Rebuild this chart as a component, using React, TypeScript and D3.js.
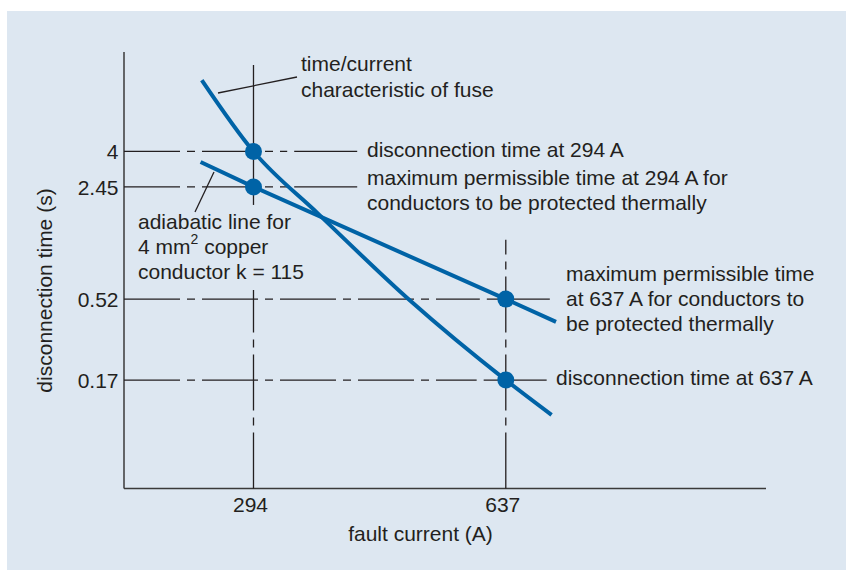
import React, { useRef, useEffect } from "react";
import * as d3 from "d3";

// tick values
const currentTicks = [294, 637];
const timeTicks = [4, 2.45, 0.52, 0.17];
const timeTickLabels = ["4", "2.45", "0.52", "0.17"];

// fuse time/current characteristic (A, s)
const fuseCurrent = [251, 294, 358, 475, 637, 733];
const fuseTime = [10.7, 4, 1.7, 0.51, 0.17, 0.105];

// adiabatic line, 4 mm2 copper, k = 115
const adiabaticCurrent = [250, 294, 637, 743];
const adiabaticTime = [3.46, 2.45, 0.52, 0.38];

// marked points
const pointCurrent = [294, 294, 637, 637];
const pointTime = [4, 2.45, 0.52, 0.17];

const W = 846;
const H = 570;
const BLUE = "#0063a6";
const INK = "#231f20";
const FONT = "'Liberation Sans', Arial, Helvetica, sans-serif";

const App = () => {
  const svgRef = useRef(null);

  useEffect(() => {
    const svg = d3.select(svgRef.current);
    svg.selectAll("*").remove();

    svg
      .append("rect")
      .attr("x", 7)
      .attr("y", 11)
      .attr("width", W - 7)
      .attr("height", H - 11)
      .attr("fill", "#dde7f1");

    const left = 124;
    const right = 766;
    const top = 52;
    const bottom = 488.5;

    const x = d3.scaleLog().domain([197.7, 1414]).range([left, right]);
    const y = d3.scaleLog().domain([15.8, 0.038]).range([top, bottom]);

    const g = svg.append("g");

    // axes
    g.append("line")
      .attr("x1", left).attr("x2", left)
      .attr("y1", top).attr("y2", bottom)
      .attr("stroke", "#3a3a3a").attr("stroke-width", 1.5);
    g.append("line")
      .attr("x1", left).attr("x2", right)
      .attr("y1", bottom).attr("y2", bottom)
      .attr("stroke", "#3a3a3a").attr("stroke-width", 1.5);

    const dashDot = "56 7 8 7";
    const refLine = (x1, y1, x2, y2, dash) =>
      g.append("line")
        .attr("x1", x1).attr("y1", y1)
        .attr("x2", x2).attr("y2", y2)
        .attr("stroke", INK)
        .attr("stroke-width", 1.3)
        .attr("stroke-dasharray", dash || null);

    // horizontal reference lines: dash-dot from axis, solid run to the label
    const hEnds = [404, 404, 729, 722];
    timeTicks.forEach((t, i) => {
      const yy = y(t);
      const xe = x(hEnds[i]);
      refLine(left, yy, xe - 70, yy, dashDot);
      refLine(xe - 63, yy, xe, yy);
    });

    // vertical reference lines
    refLine(x(294), bottom, x(294), y(0.59), dashDot);
    refLine(x(294), y(1.91), x(294), y(13.2));
    refLine(x(637), bottom, x(637), y(1.18), dashDot);

    // curves
    const line = d3
      .line()
      .x((d) => x(d[0]))
      .y((d) => y(d[1]))
      .curve(d3.curveMonotoneX);

    g.append("path")
      .datum(adiabaticCurrent.map((c, i) => [c, adiabaticTime[i]]))
      .attr("d", line.curve(d3.curveLinear))
      .attr("fill", "none")
      .attr("stroke", BLUE)
      .attr("stroke-width", 4);

    g.append("path")
      .datum(fuseCurrent.map((c, i) => [c, fuseTime[i]]))
      .attr("d", line.curve(d3.curveMonotoneX))
      .attr("fill", "none")
      .attr("stroke", BLUE)
      .attr("stroke-width", 4);

    g.selectAll(".pt")
      .data(pointCurrent.map((c, i) => [c, pointTime[i]]))
      .enter()
      .append("circle")
      .attr("cx", (d) => x(d[0]))
      .attr("cy", (d) => y(d[1]))
      .attr("r", 8.5)
      .attr("fill", BLUE);

    // leader lines
    refLine(218, 93, 297, 77);
    refLine(214, 172, 195, 212);

    // tick labels
    const txt = (tx, ty, s, anchor) =>
      g.append("text")
        .attr("x", tx).attr("y", ty)
        .attr("text-anchor", anchor || "start")
        .attr("font-family", FONT)
        .attr("font-size", 21)
        .attr("fill", INK)
        .text(s);

    timeTicks.forEach((t, i) => txt(118.5, y(t) + 8, timeTickLabels[i], "end"));
    currentTicks.forEach((c) => txt(x(c) - 3, 511.5, String(c), "middle"));

    txt(420.5, 541, "fault current (A)", "middle");
    g.append("text")
      .attr("transform", "translate(52,290.5) rotate(-90)")
      .attr("text-anchor", "middle")
      .attr("font-family", FONT)
      .attr("font-size", 21)
      .attr("fill", INK)
      .text("disconnection time (s)");

    // annotations
    txt(301, 71, "time/current");
    txt(301, 97, "characteristic of fuse");
    txt(367, 157, "disconnection time at 294 A");
    txt(367, 185, "maximum permissible time at 294 A for");
    txt(367, 209.5, "conductors to be protected thermally");
    txt(138, 228.5, "adiabatic line for");
    const mm = txt(138, 254, "4 mm");
    mm.append("tspan").attr("dy", -10).attr("font-size", 14).text("2");
    mm.append("tspan").attr("dy", 10).text(" copper");
    txt(138, 279, "conductor k = 115");
    txt(566, 281, "maximum permissible time");
    txt(566, 306, "at 637 A for conductors to");
    txt(566, 331, "be protected thermally");
    txt(556, 384.5, "disconnection time at 637 A");
  }, []);

  return (
    <svg
      ref={svgRef}
      width={W}
      height={H}
      style={{ position: "absolute", left: 0, top: 0 }}
    />
  );
};

export default App;
